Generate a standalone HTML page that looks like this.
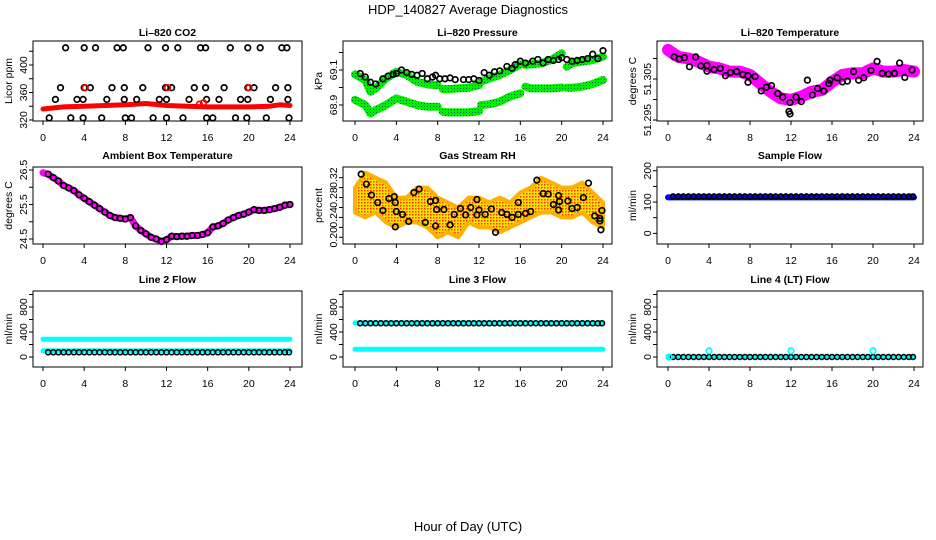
<!DOCTYPE html>
<html><head><meta charset="utf-8"><style>
html,body{margin:0;padding:0;background:#fff}
svg{display:block;font-family:"Liberation Sans",sans-serif}
</style></head><body>
<svg id="c" width="936" height="540" viewBox="0 0 936 540" xmlns="http://www.w3.org/2000/svg">
<defs>
<pattern id="gdot" width="3" height="3" patternUnits="userSpaceOnUse"><rect width="3" height="3" fill="#00ee00"/><rect x="1" y="1" width="1" height="1" fill="#064"/></pattern>
<pattern id="ydot" width="3" height="3" patternUnits="userSpaceOnUse"><rect width="3" height="3" fill="#ffe000"/><rect x="1" y="1" width="1.5" height="1.5" fill="#ff3000"/></pattern>
</defs>
<text x="468" y="14" text-anchor="middle" font-size="13">HDP_140827  Average Diagnostics</text>
<text x="468" y="531" text-anchor="middle" font-size="13">Hour of Day (UTC)</text>
</svg>
<script>
// ---- data ----
var xTicks=[0,4,8,12,16,20,24];
// CO2
var co2Hours=[2.2,4.0,5.1,7.2,7.8,10.2,11.9,13.1,15.3,15.8,18.2,19.9,21.1,23.2,23.7,1.7,4.0,4.6,6.7,7.9,9.7,11.9,12.5,14.7,15.8,17.6,19.9,20.5,22.6,23.8,1.2,3.3,3.9,6.2,7.9,9.1,11.3,12.0,14.2,15.9,17.1,19.2,19.9,22.1,23.8,0.6,2.7,3.9,5.7,8.0,8.6,10.7,12.0,13.6,15.9,16.5,18.7,19.8,21.7,23.9];
var co2Values=[425,425,425,425,425,425,425,425,425,425,425,425,425,425,425,367,367,367,367,367,367,367,367,367,367,367,367,367,367,367,350,350,350,350,350,350,350,350,350,350,350,350,350,350,350,323,323,323,323,323,323,323,323,323,323,323,323,323,323,323];
var co2RedHours=[0,2,4,6,8,10,12,14,16,18,20,22,23,24];
var co2RedValues=[336,339,340,341,342,344,341,340,339,339,339,340,342,341];
var co2RedPtHours=[4.1,12.1,15.2,15.6,20.0];
var co2RedPtValues=[367,367,343,345,367];
// Pressure
var presAHours=[0,1,1.5,2,3,4,5,6,7,8,null,8.5,9,10,11,12,null,12.2,13,14,15,16,null,16.5,17,18,19,20,null,20.5,21,22,23,24];
var presAValues=[69.075,69.043,68.976,68.995,69.052,69.09,69.071,69.033,69.018,69.014,null,68.991,68.991,68.995,68.999,69.014,null,69.033,69.052,69.071,69.1,69.132,null,69.129,69.132,69.138,69.157,69.195,null,69.119,69.138,69.148,69.157,69.176];
var presBHours=[0,1,1.5,2,3,4,5,6,7,8,null,8.5,9,10,11,12,null,12.2,13,14,15,16,null,16.5,17,18,19,20,null,20.5,21,22,23,24];
var presBValues=[68.929,68.9,68.852,68.871,68.9,68.938,68.919,68.9,68.89,68.89,null,68.862,68.858,68.858,68.858,68.866,null,68.9,68.904,68.919,68.948,68.967,null,69.005,68.995,68.995,68.995,69.0,null,68.999,68.999,69.005,69.02,69.043];
var presPtHours=[0.5,1,1.5,2,2.7,3.2,3.7,4,4.5,5,5.5,6,6.5,7,7.5,7.8,8.2,8.7,9.2,9.7,10.5,11,11.5,12,12.5,13,13.5,14,14.7,15.2,15.5,16,16.5,17.2,17.7,18.2,18.7,19.2,19.7,20,20.5,21,21.5,22,22.5,23,23.5,24];
var presPtValues=[69.08,69.06,69.03,69.02,69.05,69.065,69.075,69.08,69.1,69.085,69.075,69.07,69.08,69.05,69.06,69.07,69.05,69.05,69.055,69.045,69.045,69.045,69.05,69.04,69.085,69.07,69.09,69.095,69.12,69.11,69.13,69.15,69.14,69.15,69.16,69.14,69.16,69.155,69.16,69.17,69.16,69.15,69.155,69.16,69.165,69.19,69.165,69.21];
// Li-820 temperature
var tempBandHours=[0,1,2,3,4,5,6,7,8,9,10,11,12,13,14,15,16,17,18,19,20,21,22,23,24];
var tempBandValues=[51.3121,51.3104,51.31,51.3092,51.308,51.3076,51.3068,51.3068,51.306,51.3039,51.3019,51.3003,51.2999,51.3007,51.3019,51.3023,51.3043,51.306,51.3064,51.3064,51.3076,51.3068,51.3068,51.3072,51.3068];
var tempPtHours=[0.6,1.1,1.6,2.1,2.7,3.2,3.8,3.8,4.5,5.1,5.6,6.1,6.7,7.3,7.8,7.8,8.5,9.1,9.6,10.1,10.7,11.2,11.9,11.8,11.9,12.5,13.0,13.6,14.1,14.6,15.2,15.7,15.8,16.5,17.0,17.5,18.1,18.6,19.1,19.8,20.4,20.9,21.5,22.1,22.6,23.1,23.8];
var tempPtValues=[51.3104,51.3099,51.3102,51.308,51.3104,51.3082,51.3083,51.3069,51.3073,51.3076,51.3058,51.3066,51.3068,51.3061,51.3058,51.3042,51.3056,51.3021,51.303,51.3034,51.3015,51.3006,51.2993,51.2971,51.2965,51.3006,51.2995,51.3047,51.3011,51.3027,51.3021,51.3039,51.3047,51.3053,51.3043,51.3045,51.3068,51.3047,51.3053,51.3071,51.3093,51.3064,51.3062,51.3064,51.3089,51.3054,51.3072];
// Ambient box temperature
var ambHours=[0,0.5,1,1.5,2,2.5,3,3.5,4,4.5,5,5.5,6,6.5,7,7.5,8,8.5,9,9.5,10,10.5,11,11.5,12,12.5,13,13.5,14,14.5,15,15.5,16,16.5,17,17.5,18,18.5,19,19.5,20,20.5,21,21.5,22,22.5,23,23.5,24];
var ambValues=[26.42,26.38,26.28,26.18,26.05,25.98,25.9,25.78,25.68,25.58,25.48,25.38,25.28,25.18,25.12,25.1,25.08,25.12,24.88,24.75,24.65,24.55,24.5,24.43,24.48,24.58,24.57,24.58,24.58,24.6,24.6,24.63,24.68,24.85,24.88,24.95,25.05,25.12,25.18,25.22,25.28,25.35,25.33,25.33,25.35,25.38,25.42,25.48,25.5];
// Gas stream RH
var rhBandHours=[0,1,2,3,4,5,6,7,8,9,10,11,12,13,14,15,16,17,18,19,20,21,22,23,24];
var rhUpper=[0.30,0.33,0.32,0.31,0.28,0.28,0.30,0.30,0.28,0.27,0.26,0.28,0.28,0.27,0.28,0.27,0.29,0.30,0.32,0.31,0.30,0.30,0.31,0.29,0.27];
var rhLower=[0.25,0.24,0.25,0.23,0.22,0.23,0.23,0.22,0.20,0.21,0.20,0.23,0.22,0.22,0.21,0.22,0.23,0.24,0.25,0.25,0.24,0.24,0.25,0.23,0.22];
var rhPtHours=[0.6,1.1,1.6,2.2,2.7,3.3,3.8,3.9,4,3.9,4.6,5.2,5.7,6.2,6.8,7.3,7.8,7.9,7.8,8.6,9.2,9.6,10.2,10.7,11.2,11.8,11.8,12,12.6,13.2,13.6,14.2,14.7,15.2,15.8,15.8,16.5,17,17.6,18.2,18.7,19.2,19.7,19.8,19.7,20.6,21,21.5,22.1,22.6,23.2,23.7,23.7,23.9,23.8];
var rhPtValues=[0.327,0.307,0.285,0.270,0.254,0.278,0.282,0.270,0.252,0.221,0.246,0.232,0.290,0.297,0.230,0.272,0.274,0.256,0.223,0.256,0.225,0.246,0.258,0.245,0.260,0.276,0.245,0.255,0.246,0.257,0.210,0.250,0.246,0.240,0.270,0.246,0.248,0.252,0.315,0.288,0.287,0.266,0.284,0.272,0.255,0.273,0.258,0.260,0.280,0.309,0.243,0.233,0.238,0.254,0.215];
// Flows
var flowHours=[0.5,1,1.5,2,2.5,3,3.5,4,4.5,5,5.5,6,6.5,7,7.5,8,8.5,9,9.5,10,10.5,11,11.5,12,12.5,13,13.5,14,14.5,15,15.5,16,16.5,17,17.5,18,18.5,19,19.5,20,20.5,21,21.5,22,22.5,23,23.5,23.9];
var sampleBand=[115,115];
var samplePts=[118,118,118,118,118,118,118,118,118,118,118,118,118,118,118,118,118,118,118,118,118,118,118,118,118,118,118,118,118,118,118,118,118,118,118,118,118,118,118,118,118,118,118,118,118,118,118,118];
var line2CyanHigh=[285,285];
var line2CyanLow=[100,100];
var line2Pts=[75,75,75,75,75,75,75,75,75,75,75,75,75,75,75,75,75,75,75,75,75,75,75,75,75,75,75,75,75,75,75,75,75,75,75,75,75,75,75,75,75,75,75,75,75,75,75,75];
var line3CyanHigh=[545,545];
var line3CyanLow=[125,125];
var line3Pts=[540,540,540,540,540,540,540,540,540,540,540,540,540,540,540,540,540,540,540,540,540,540,540,540,540,540,540,540,540,540,540,540,540,540,540,540,540,540,540,540,540,540,540,540,540,540,540,540];
var line4Cyan=[0,0];
var line4Pts=[0,0,0,0,0,0,0,0,0,0,0,0,0,0,0,0,0,0,0,0,0,0,0,0,0,0,0,0,0,0,0,0,0,0,0,0,0,0,0,0,0,0,0,0,0,0,0,0];
var line4CyanPtHours=[0.1,4,12,20];
var line4CyanPtValues=[0,100,100,100];
var bandEnds=[0,24];

// ---- drawing ----
var svg=document.getElementById('c');
var NS='http://www.w3.org/2000/svg';
var colBox=[[33,302],[343,612],[657,923]];
var colX0=[[43,290],[355,603],[668,914]];
var rowBox=[[41,121],[167,244],[291,367]];
var tickLabBase=[6,6,6];
var titleBase=[21,21,21];
function mk(tag,at,parent){var e=document.createElementNS(NS,tag);for(var k in at)e.setAttribute(k,at[k]);(parent||svg).appendChild(e);return e;}
function panel(col,row,title,ylab,ymin,ymax,ticks,labels,name){
  var g=mk('g',{});
  
  
  var bx=colBox[col],by=rowBox[row],cx=colX0[col];
  var P={g:g,x:function(h){return cx[0]+(cx[1]-cx[0])*h/24;},y:function(v){return by[1]-(v-ymin)/(ymax-ymin)*(by[1]-by[0]);}};
  var t=mk('text',{x:(bx[0]+bx[1])/2,y:by[0]-(row==0?5:8),'text-anchor':'middle','font-size':10.5,'font-weight':'bold'},g);t.textContent=title;
  
  
  var b=mk('rect',{x:bx[0],y:by[0],width:bx[1]-bx[0],height:by[1]-by[0],fill:'none',stroke:'#000','stroke-width':1},g);
  
  
  xTicks.forEach(function(h){var x=P.x(h);mk('line',{x1:x,x2:x,y1:by[1],y2:by[1]+4,stroke:'#000'},g);
    var l=mk('text',{x:x,y:by[1]+20,'text-anchor':'middle','font-size':10.5},g);l.textContent=h;
    
    });
  ticks.forEach(function(v,i){var y=P.y(v);mk('line',{x1:bx[0]-4,x2:bx[0],y1:y,y2:y,stroke:'#000'},g);
    if(labels[i]){var lx=bx[0]-tickLabBase[col];var l=mk('text',{x:lx,y:y,'text-anchor':'middle','font-size':10.5,transform:'rotate(-90 '+lx+' '+y+')'},g);l.textContent=labels[i];
    
    }});
  var tx=bx[0]-titleBase[col],ty=(by[0]+by[1])/2;
  var yl=mk('text',{x:tx,y:ty,'text-anchor':'middle','font-size':10.5,transform:'rotate(-90 '+tx+' '+ty+')'},g);yl.textContent=ylab;
  
  
  return P;
}
function band(P,hs,vs,color,w,name){
  var d='',pen=false;
  for(var i=0;i<hs.length;i++){if(hs[i]===null||vs[i]===null){pen=false;continue;}
    d+=(pen?'L':'M')+P.x(hs[i]).toFixed(1)+' '+P.y(vs[i]).toFixed(1);pen=true;}
  var p=mk('path',{d:d,fill:'none',stroke:color,'stroke-width':w,'stroke-linejoin':'round','stroke-linecap':'round'},P.g);
  
  
}
function pts(P,hs,vs,color,name,r,sw){
  for(var i=0;i<hs.length;i++){
    var c=mk('circle',{cx:P.x(hs[i]).toFixed(1),cy:P.y(vs[i]).toFixed(1),r:r||2.8,fill:'none',stroke:color,'stroke-width':sw||1.7},P.g);
    
    
  }
}
// Panel 1
var p1=panel(0,0,'Li\u2013820 CO2','Licor ppm',318.5,434.9,[320,340,360,380,400,420],['320','','360','','400',''],'co2');
band(p1,co2RedHours,co2RedValues,'#ff0000',5,'co2-red-band');
pts(p1,co2Hours,co2Values,'#000','co2-point');
pts(p1,co2RedPtHours,co2RedPtValues,'#ff0000','co2-red-point');
// Panel 2
var p2=panel(1,0,'Li\u2013820 Pressure','kPa',68.8086,69.2657,[68.9,69.0,69.1,69.2],['68.9','','69.1',''],'pressure');
band(p2,presAHours,presAValues,'url(#gdot)',8,'pressure-green-band-upper');
band(p2,presBHours,presBValues,'url(#gdot)',8,'pressure-green-band-lower');
pts(p2,presPtHours,presPtValues,'#000','pressure-point');
// Panel 3
var p3=panel(2,0,'Li\u2013820 Temperature','degrees C',51.29476,51.31427,[51.295,51.3,51.305,51.31],['51.295','','51.305',''],'li820-temp');
band(p3,tempBandHours,tempBandValues,'#ff00ff',12,'li820-temp-magenta-band');
pts(p3,tempPtHours,tempPtValues,'#000','li820-temp-point');
// Panel 4
var p4=panel(0,1,'Ambient Box Temperature','degrees C',24.355,26.587,[24.5,25,25.5,26,26.5],['24.5','','25.5','','26.5'],'ambient-temp');
band(p4,ambHours,ambValues,'#ff00ff',7,'ambient-magenta-band');
pts(p4,ambHours.slice(1),ambValues.slice(1),'#000','ambient-point');
// Panel 5
var p5=panel(1,1,'Gas Stream RH','percent',0.1865,0.3415,[0.2,0.22,0.24,0.26,0.28,0.3,0.32],['0.20','','0.24','','0.28','','0.32'],'rh');
(function(){var d='';for(var i=0;i<rhBandHours.length;i++)d+=(i?'L':'M')+p5.x(rhBandHours[i]).toFixed(1)+' '+p5.y(rhUpper[i]).toFixed(1);
for(var i=rhBandHours.length-1;i>=0;i--)d+='L'+p5.x(rhBandHours[i]).toFixed(1)+' '+p5.y(rhLower[i]).toFixed(1);
var p=mk('path',{d:d+'Z',fill:'url(#ydot)',stroke:'#ffb000','stroke-width':4,'stroke-linejoin':'round'},p5.g);

})();
pts(p5,rhPtHours,rhPtValues,'#000','rh-point');
// Panel 6
var p6=panel(2,1,'Sample Flow','ml/min',-34,212,[0,50,100,150,200],['0','','100','','200'],'sample-flow');
band(p6,bandEnds,sampleBand,'#0000ff',6,'sample-flow-blue-band');
pts(p6,flowHours,samplePts,'#000','sample-flow-point',2.5,1.5);
// Row 3
var rt=[0,200,400,600,800,1000],rl=['0','','400','','800',''];
var p7=panel(0,2,'Line 2 Flow','ml/min',-160,1056,rt,rl,'line2-flow');
band(p7,bandEnds,line2CyanHigh,'#00ffff',5,'line2-cyan-band-high');
band(p7,bandEnds,line2CyanLow,'#00ffff',5,'line2-cyan-band-low');
pts(p7,flowHours,line2Pts,'#000','line2-point',2.5,1.5);
var p8=panel(1,2,'Line 3 Flow','ml/min',-160,1056,rt,rl,'line3-flow');
band(p8,bandEnds,line3CyanHigh,'#00ffff',5,'line3-cyan-band-high');
band(p8,bandEnds,line3CyanLow,'#00ffff',5,'line3-cyan-band-low');
pts(p8,flowHours,line3Pts,'#000','line3-point',2.5,1.5);
var p9=panel(2,2,'Line 4 (LT) Flow','ml/min',-160,1056,rt,rl,'line4-flow');
band(p9,bandEnds,line4Cyan,'#00ffff',4,'line4-cyan-band');
pts(p9,flowHours,line4Pts,'#000','line4-point',2.5,1.5);
pts(p9,line4CyanPtHours,line4CyanPtValues,'#00ffff','line4-cyan-point');
</script>
</body></html>
